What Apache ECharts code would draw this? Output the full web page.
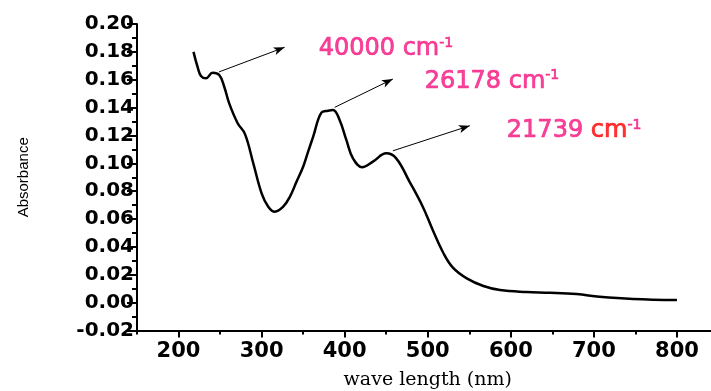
<!DOCTYPE html>
<html>
<head>
<meta charset="utf-8">
<script src="https://cdn.jsdelivr.net/npm/echarts@6/dist/echarts.min.js"></script>
<style>
  html, body {margin: 0; padding: 0; background: #fff;}
  #chart {width: 711px; height: 391px;}
</style>
</head>
<body>
<div id="chart"></div>
<script>
// spectrum
const wl = [218, 223, 227, 233, 241, 249, 255, 261, 271, 280, 290, 300, 308, 316, 326, 334, 342, 350, 356, 362, 372, 380, 386, 394, 402, 410, 421, 434, 450, 462, 478, 494, 506, 518, 530, 547, 567, 587, 619, 647, 679, 707, 747, 800]
const absorb = [0.180, 0.169, 0.1627, 0.161, 0.165, 0.1634, 0.155, 0.143, 0.129, 0.121, 0.100, 0.0785, 0.0689, 0.0653, 0.0689, 0.076, 0.0868, 0.0976, 0.1084, 0.119, 0.1364, 0.1378, 0.1383, 0.131, 0.1168, 0.1036, 0.0972, 0.1012, 0.1072, 0.1036, 0.0869, 0.0689, 0.0522, 0.0366, 0.0254, 0.0175, 0.012, 0.0091, 0.0077, 0.0072, 0.0062, 0.0043, 0.0027, 0.0019]

const xMajorTicks = [200, 300, 400, 500, 600, 700, 800]
const xMinorTicks = [150, 250, 350, 450, 550, 650, 750, 850]

// arrows: [from, to] in data units
const arrows = [
  [[248.6, 0.1656], [327.7, 0.1833]],
  [[388, 0.1402], [458, 0.1605]],
  [[458, 0.109], [550.6, 0.127]],
]
// peak labels, anchored at their left edge
const notePos = [[368.7, 0.182], [496.4, 0.1587], [595.2, 0.1232]]
const noteText = ['40000', '26178', '21739']

const pink = '#f5157f'

const chart = echarts.init(document.getElementById('chart'))

const labelFont = {fontFamily: 'DejaVu Sans', fontWeight: 'bold', color: '#000'}
const noteFont = (color, size) => ({
  fontFamily: 'DejaVu Sans', fontSize: size, color: color,
  textBorderColor: color, textBorderWidth: 0.7,
})

chart.setOption({
  animation: false,
  backgroundColor: '#fff',
  grid: {left: 137, top: 24, bottom: 60.4, right: -7.5, containLabel: false, outerBoundsMode: 'none'},
  xAxis: [{
    type: 'value',
    min: 150,
    max: 850,
    interval: 50,
    splitLine: {show: false},
    axisLine: {onZero: false, lineStyle: {color: '#000', width: 2}},
    axisTick: {length: 7, lineStyle: {color: '#000', width: 2}, customValues: xMajorTicks},
    axisLabel: {...labelFont, fontSize: 21, margin: 10, customValues: xMajorTicks},
    name: 'wave length (nm)',
    nameLocation: 'middle',
    nameGap: 40,
    nameTextStyle: {fontFamily: 'DejaVu Serif', fontSize: 19, color: '#000'},
  }, {
    type: 'value',
    position: 'bottom',
    offset: 0,
    min: 150,
    max: 850,
    interval: 50,
    splitLine: {show: false},
    axisLine: {show: false, onZero: false},
    axisTick: {length: 4, lineStyle: {color: '#000', width: 2}, customValues: xMinorTicks},
    axisLabel: {show: false},
  }],
  yAxis: {
    type: 'value',
    min: -0.02,
    max: 0.20,
    interval: 0.02,
    splitLine: {show: false},
    axisLine: {onZero: false, lineStyle: {color: '#000', width: 2}},
    axisTick: {length: 10, lineStyle: {color: '#000', width: 2}},
    minorTick: {show: true, splitNumber: 2, length: 5, lineStyle: {color: '#000', width: 2}},
    axisLabel: {...labelFont, fontSize: 20, margin: 3, formatter: v => v.toFixed(2)},
    name: 'Absorbance',
    nameLocation: 'middle',
    nameGap: 106,
    nameTextStyle: {fontFamily: 'Liberation Sans', fontSize: 15, color: '#000'},
  },
  series: [{
    type: 'line',
    data: wl.map((x, i) => [x, absorb[i]]),
    smooth: 0.4,
    symbol: 'none',
    lineStyle: {color: '#000', width: 2.5},
    markLine: {
      silent: true,
      label: {show: false},
      lineStyle: {color: '#000', width: 1, type: 'solid'},
      data: arrows.map(a => [
        {coord: a[0], symbol: 'none'},
        {coord: a[1], symbol: 'arrow', symbolSize: [6, 11]},
      ]),
    },
  }, {
    type: 'scatter',
    symbolSize: 0,
    silent: true,
    data: notePos,
    label: {
      show: true,
      position: 'right',
      distance: 0,
      formatter: p => '{n|' + noteText[p.dataIndex] + ' }{' + (p.dataIndex === 2 ? 'r' : 'c') + '|cm}{s|-1}',
      rich: {
        n: {...noteFont(pink, 24), lineHeight: 26},
        c: {...noteFont(pink, 24), lineHeight: 26},
        r: {...noteFont('#ff0000', 24), lineHeight: 26},
        s: {...noteFont(pink, 14), lineHeight: 14, verticalAlign: 'top'},
      },
    },
  }],
})
</script>
</body>
</html>
